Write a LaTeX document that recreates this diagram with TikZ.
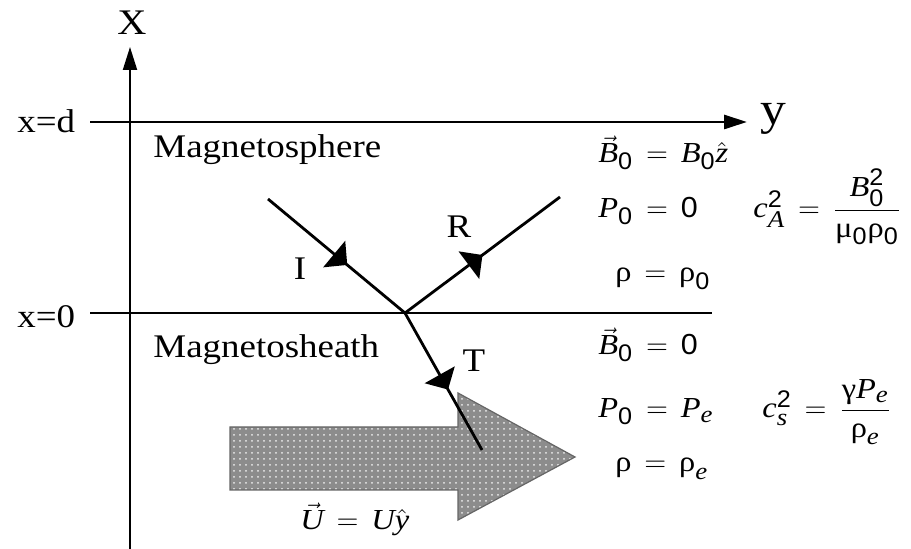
\documentclass[tikz,border=0pt]{standalone}
\usepackage{amsmath}
\usepackage{fontspec}
\setmainfont{Liberation Serif}[FakeStretch=1.12]
\setsansfont{Liberation Sans}[FakeStretch=1.05]
\usetikzlibrary{arrows.meta,decorations.markings,patterns}
\newcommand{\mvI}[1]{\text{\itshape #1}}
\newcommand{\mvS}[1]{\text{\sffamily #1}}
\newcommand{\mvR}[1]{\text{#1}}
\newcommand{\smallS}[1]{\text{\fontsize{12}{12}\selectfont\sffamily #1}}
\newcommand{\smallI}[1]{\text{\fontsize{12}{12}\selectfont\itshape #1}}
\newcommand{\meq}{\mathrel{\mskip3mu=\mskip3mu}}
\begin{document}
\begin{tikzpicture}[x=0.5pt,y=-0.5pt,
  lbl/.style={inner sep=0pt, font=\fontsize{16.5}{18}\selectfont},
  eqn/.style={inner sep=0pt, anchor=base west, font=\fontsize{14.5}{16}\selectfont},
  boundary/.style={line width=1.4pt},
  axisarrow/.style={-{Triangle[length=11.5pt,width=7pt]}},
  ray/.style={line width=1.4pt},
  midarrow/.style={postaction={decorate}, decoration={markings,
     mark=at position #1 with {\arrow{Triangle[length=8.5pt,width=17pt]}}}},
  flow/.style={draw=black!60, line width=0.6pt,
     preaction={fill=black!45}, preaction={pattern=dots, pattern color=white!85!gray}}
]
\useasboundingbox (0,0) rectangle (911,549);
\fill[white] (0,0) rectangle (911,549);

% coordinates
\coordinate (axb) at (130,549);
\coordinate (axt) at (130,47);
\coordinate (dl) at (90,122);
\coordinate (dr) at (747,122);
\coordinate (zl) at (90,313);
\coordinate (zr) at (712,313);
\coordinate (O) at (405,313);
\coordinate (Is) at (268,199);
\coordinate (Re) at (560,197);
\coordinate (Te) at (482,450);

% axes and boundaries
\draw[line width=1pt, axisarrow] (axb) -- (axt);
\draw[boundary, axisarrow] (dl) -- (dr);
\draw[boundary] (zl) -- (zr);

% flow arrow
\draw[flow] (230,427) -- (458,427) -- (458,393) -- (575,457) -- (458,520) -- (458,490) -- (230,490) -- cycle;

% rays
\draw[ray, midarrow=0.58] (Is) -- (O);
\draw[ray, midarrow=0.50] (O) -- (Re);
\draw[ray, midarrow=0.56] (O) -- (Te);

% labels
\node[inner sep=0pt, anchor=base, font=\fontsize{18}{20}\selectfont] (X) at (132,35) {X};
\node[inner sep=0pt, anchor=base west, font=\fontsize{23}{24}\selectfont] (ylab) at (760,125) {y};
\node[lbl, anchor=base west] (xd) at (17,133) {x=d};
\node[lbl, anchor=base west] (x0) at (17,328) {x=0};
\node[lbl, anchor=base west] (msph) at (153,158) {Magnetosphere};
\node[lbl, anchor=base west] (mshe) at (153,358) {Magnetosheath};
\node[lbl, anchor=base] (Il) at (300,280) {I};
\node[lbl, anchor=base] (Rl) at (459,238) {R};
\node[lbl, anchor=base] (Tl) at (474,372) {T};

% magnetosphere equations
\node[eqn] (e1) at (598,163) {$\vec{\mvI{B}}_{\smallS{0}} \meq \mvI{B}_{\smallS{0}}\hat{\mvI{z}}$};
\node[eqn] (e2) at (598,218) {$\mvI{P}_{\smallS{0}} \meq \mvS{0}$};
\node[eqn] (e3) at (753,218) {$\mvI{c}_{\smallI{A}}^{\smallS{2}} \meq \dfrac{\mvI{B}_{\smallS{0}}^{\smallS{2}}}{\mvR{μ}_{\smallS{0}}\mvR{ρ}_{\smallS{0}}}$};
\node[eqn] (e4) at (615,282) {$\mvR{ρ} \meq \mvR{ρ}_{\smallS{0}}$};

% magnetosheath equations
\node[eqn] (e5) at (598,355) {$\vec{\mvI{B}}_{\smallS{0}} \meq \mvS{0}$};
\node[eqn] (e6) at (598,418) {$\mvI{P}_{\smallS{0}} \meq \mvI{P}_{\smallI{e}}$};
\node[eqn] (e7) at (762,418) {$\mvI{c}_{\smallI{s}}^{\smallS{2}} \meq \dfrac{\mvR{γ}\mvI{P}_{\smallI{e}}}{\mvR{ρ}_{\smallI{e}}}$};
\node[eqn] (e8) at (615,472) {$\mvR{ρ} \meq \mvR{ρ}_{\smallI{e}}$};
\node[eqn] (e9) at (300,530) {$\vec{\mvI{U}} \meq \mvI{U}\hat{\mvI{y}}$};
\end{tikzpicture}
\end{document}
